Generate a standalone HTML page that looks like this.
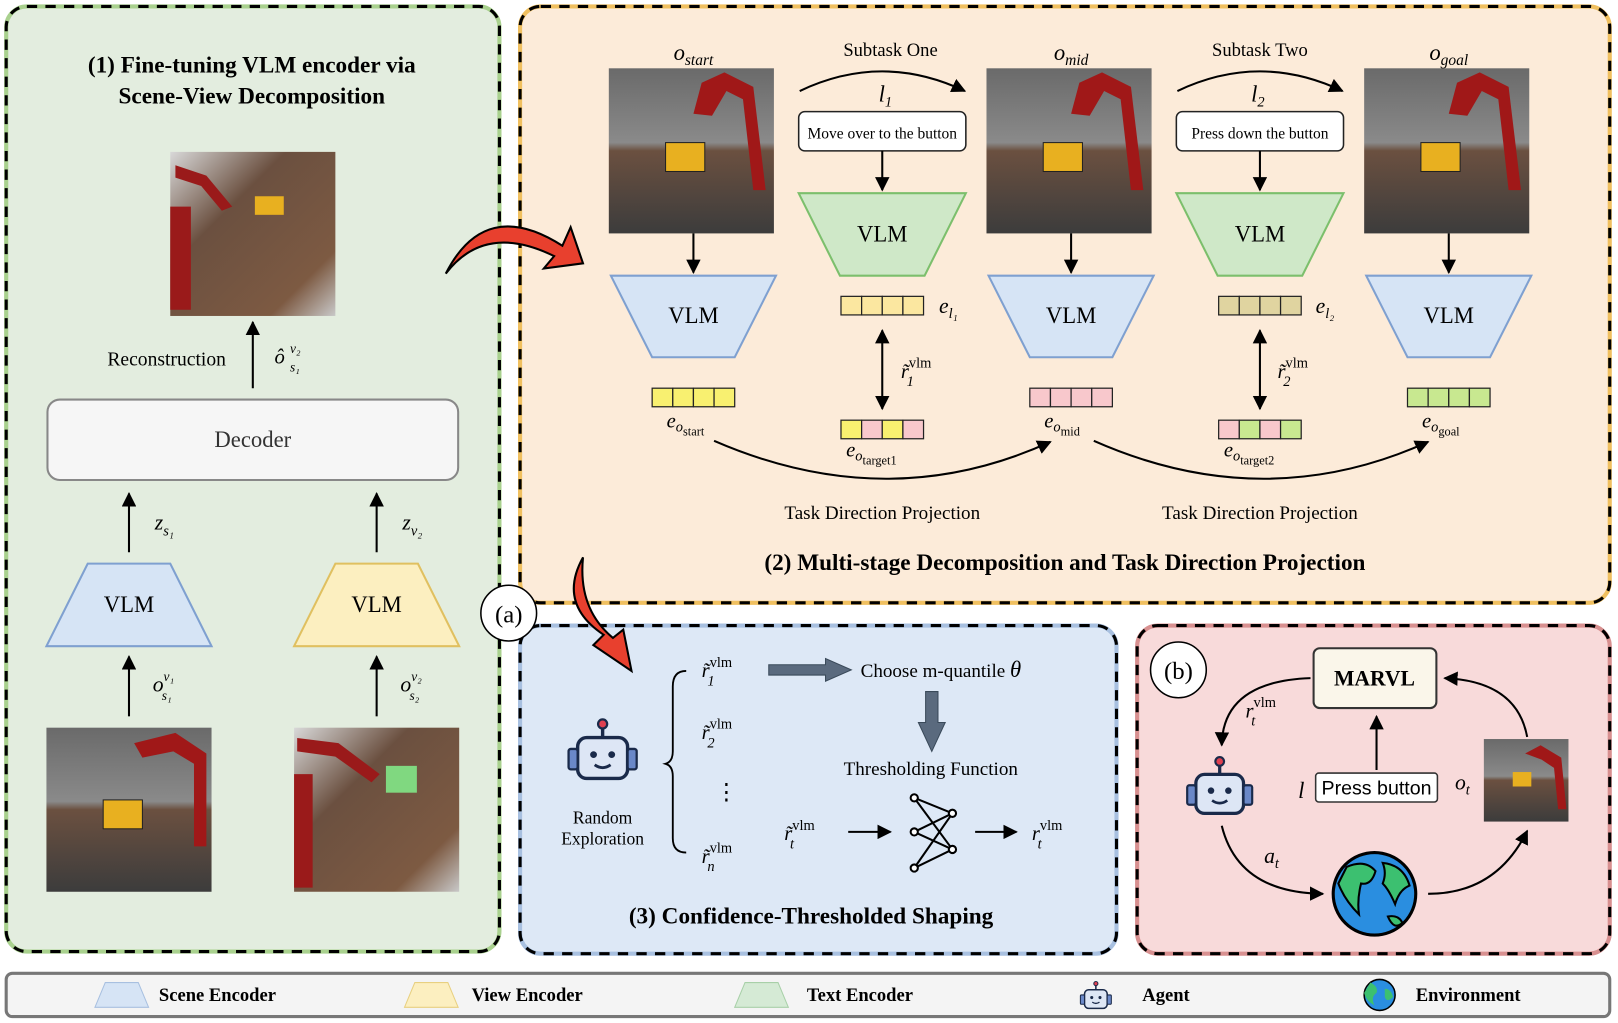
<!DOCTYPE html>
<html><head><meta charset="utf-8"><style>
html,body{margin:0;padding:0;background:#fff;}
svg{display:block;font-family:"Liberation Serif",serif;}
</style></head><body>
<svg width="1618" height="1023" viewBox="0 0 1568 991" xmlns="http://www.w3.org/2000/svg">
<defs>
<marker id="ah" viewBox="0 0 10 10" refX="9" refY="5" markerWidth="7" markerHeight="7" orient="auto"><path d="M0,0L10,5L0,10z" fill="#000"/></marker>
<marker id="ah2" viewBox="0 0 10 10" refX="9" refY="5" markerWidth="7" markerHeight="7" orient="auto-start-reverse"><path d="M0,0L10,5L0,10z" fill="#000"/></marker>
<linearGradient id="img" x1="0" y1="0" x2="0" y2="1"><stop offset="0" stop-color="#6a6a6a"/><stop offset="0.45" stop-color="#8a8a8a"/><stop offset="0.5" stop-color="#6b5040"/><stop offset="1" stop-color="#3c3c3c"/></linearGradient>
<linearGradient id="img2" x1="0" y1="0" x2="1" y2="1"><stop offset="0" stop-color="#d8d8d8"/><stop offset="0.35" stop-color="#6b5040"/><stop offset="0.8" stop-color="#7d5a42"/><stop offset="1" stop-color="#c8c8c8"/></linearGradient>
<g id="robot"><rect x="-22" y="-14" width="44" height="36" rx="8" fill="#dde6f5" stroke="#1a2a4a" stroke-width="3"/><rect x="-30" y="-4" width="8" height="18" rx="2" fill="#6a88c8" stroke="#1a2a4a" stroke-width="2"/><rect x="22" y="-4" width="8" height="18" rx="2" fill="#6a88c8" stroke="#1a2a4a" stroke-width="2"/><line x1="0" y1="-14" x2="0" y2="-24" stroke="#1a2a4a" stroke-width="3"/><circle cx="0" cy="-26" r="4" fill="#e04050" stroke="#1a2a4a" stroke-width="2"/><circle cx="-8" cy="1" r="3" fill="#1a2a4a"/><circle cx="8" cy="1" r="3" fill="#1a2a4a"/><path d="M-7,10Q0,15 7,10" stroke="#1a2a4a" stroke-width="2.5" fill="none"/></g>
</defs>

<rect x="6" y="6" width="478" height="916" rx="20" fill="#e3eddf" stroke="#a9d18e" stroke-width="4"/>
<rect x="6" y="6" width="478" height="916" rx="20" fill="none" stroke="#000" stroke-width="3" stroke-dasharray="10,8"/>
<rect x="504" y="6" width="1056" height="578" rx="20" fill="#fcebd9" stroke="#f0c060" stroke-width="4"/>
<rect x="504" y="6" width="1056" height="578" rx="20" fill="none" stroke="#000" stroke-width="3" stroke-dasharray="10,8"/>
<rect x="504" y="606" width="578" height="318" rx="20" fill="#dde8f6" stroke="#a8c0e0" stroke-width="4"/>
<rect x="504" y="606" width="578" height="318" rx="20" fill="none" stroke="#000" stroke-width="3" stroke-dasharray="10,8"/>
<rect x="1102" y="606" width="458" height="318" rx="20" fill="#f8dada" stroke="#d89090" stroke-width="4"/>
<rect x="1102" y="606" width="458" height="318" rx="20" fill="none" stroke="#000" stroke-width="3" stroke-dasharray="10,8"/>
<rect x="6" y="943" width="1554" height="42" rx="6" fill="#f4f4f4" stroke="#777" stroke-width="3"/>
<path d="M102,952 L134,952 L144,976 L92,976z" fill="#d6e4f5" stroke="#a8c0e0"/>
<text x="154" y="970" font-size="18" font-weight="bold">Scene Encoder</text>
<path d="M402,952 L434,952 L444,976 L392,976z" fill="#fcefc0" stroke="#e8d080"/>
<text x="457" y="970" font-size="18" font-weight="bold">View Encoder</text>
<path d="M722,952 L754,952 L764,976 L712,976z" fill="#d5ead5" stroke="#a8d0a8"/>
<text x="782" y="970" font-size="18" font-weight="bold">Text Encoder</text>
<use href="#robot" transform="translate(1062,966) scale(0.5)"/>
<text x="1107" y="970" font-size="18" font-weight="bold">Agent</text>
<circle cx="1337" cy="964" r="15" fill="#2a8ee0" stroke="#000" stroke-width="1.5"/>
<path d="M1328,952 q8,4 6,10 q-6,4 -2,12 q-8,-4 -10,-12z M1342,958 q6,0 8,8 q-6,6 -8,0z" fill="#3cc070"/>
<text x="1372" y="970" font-size="18" font-weight="bold">Environment</text>

<text x="244" y="70" font-size="22.5" font-weight="bold" text-anchor="middle">(1)  Fine-tuning VLM encoder via</text>
<text x="244" y="100" font-size="22.5" font-weight="bold" text-anchor="middle">Scene-View Decomposition</text>
<rect x="165" y="147" width="160" height="159" fill="url(#img2)"/>
<path d="M170,160 l30,10 l25,30 l-10,4 l-20,-24 l-25,-8z M165,200 l20,0 l0,100 l-20,0z" fill="#9a1a1a"/>
<rect x="247" y="190" width="28" height="18" fill="#e8b020"/>
<line x1="245" y1="376" x2="245" y2="312" stroke="#000" stroke-width="2" marker-end="url(#ah)"/>
<text x="104" y="354" font-size="19">Reconstruction</text>
<text x="266" y="352" font-size="20" font-style="italic">ô</text><text x="281" y="342" font-size="13" font-style="italic">v₂</text><text x="281" y="360" font-size="13" font-style="italic">s₁</text>
<rect x="46" y="387" width="398" height="78" rx="12" fill="#f6f6f6" stroke="#888" stroke-width="2"/>
<text x="245" y="433" font-size="22" text-anchor="middle" fill="#333">Decoder</text>
<line x1="125" y1="535" x2="125" y2="478" stroke="#000" stroke-width="2" marker-end="url(#ah)"/>
<line x1="365" y1="535" x2="365" y2="478" stroke="#000" stroke-width="2" marker-end="url(#ah)"/>
<text x="150" y="513" font-size="21" font-style="italic">z<tspan font-size="14" dy="6">s₁</tspan></text>
<text x="390" y="513" font-size="21" font-style="italic">z<tspan font-size="14" dy="6">v₂</tspan></text>
<path d="M85,546 L165,546 L205,626 L45,626z" fill="#d6e4f5" stroke="#7fa0d0" stroke-width="2"/>
<text x="125" y="593" font-size="22" text-anchor="middle">VLM</text>
<path d="M325,546 L405,546 L445,626 L285,626z" fill="#fcefc0" stroke="#e0c060" stroke-width="2"/>
<text x="365" y="593" font-size="22" text-anchor="middle">VLM</text>
<line x1="125" y1="694" x2="125" y2="636" stroke="#000" stroke-width="2" marker-end="url(#ah)"/>
<line x1="365" y1="694" x2="365" y2="636" stroke="#000" stroke-width="2" marker-end="url(#ah)"/>
<text x="148" y="670" font-size="21" font-style="italic">o<tspan font-size="13" dy="-10">v₁</tspan><tspan font-size="13" dx="-12" dy="18">s₁</tspan></text>
<text x="388" y="670" font-size="21" font-style="italic">o<tspan font-size="13" dy="-10">v₂</tspan><tspan font-size="13" dx="-12" dy="18">s₂</tspan></text>
<rect x="45" y="705" width="160" height="159" fill="url(#img)"/>
<path d="M130,720 l40,-10 l30,20 l0,90 l-12,0 l0,-80 l-20,-12 l-30,6z" fill="#a01818"/>
<rect x="100" y="775" width="38" height="28" fill="#e8b020" stroke="#222"/>
<rect x="285" y="705" width="160" height="159" fill="url(#img2)"/>
<path d="M288,715 l40,5 l40,30 l-8,8 l-35,-25 l-37,-5z M285,750 l18,0 l0,110 l-18,0z" fill="#9a1a1a"/>
<rect x="374" y="742" width="30" height="26" fill="#80d880"/>

<text x="672" y="58" font-size="22" font-style="italic" text-anchor="middle">o<tspan font-size="15" dy="5">start</tspan></text>
<text x="1038" y="58" font-size="22" font-style="italic" text-anchor="middle">o<tspan font-size="15" dy="5">mid</tspan></text>
<text x="1404" y="58" font-size="22" font-style="italic" text-anchor="middle">o<tspan font-size="15" dy="5">goal</tspan></text>
<g id="sim"><rect x="590" y="66" width="160" height="160" fill="url(#img)"/><path d="M672,110 l8,-30 l22,-10 l28,14 l12,100 l-12,0 l-10,-88 l-16,-8 l-14,24z" fill="#a01818"/><rect x="645" y="138" width="38" height="28" fill="#e8b020" stroke="#222"/></g>
<use href="#sim" transform="translate(366,0)"/>
<use href="#sim" transform="translate(732,0)"/>
<text x="863" y="54" font-size="18" text-anchor="middle">Subtask One</text>
<text x="1221" y="54" font-size="18" text-anchor="middle">Subtask Two</text>
<path d="M775,88 Q855,50 935,88" stroke="#000" stroke-width="2" fill="none" marker-end="url(#ah)"/>
<path d="M1141,88 Q1221,50 1301,88" stroke="#000" stroke-width="2" fill="none" marker-end="url(#ah)"/>
<text x="858" y="98" font-size="22" font-style="italic" text-anchor="middle">l<tspan font-size="14" dy="5">1</tspan></text>
<text x="1219" y="98" font-size="22" font-style="italic" text-anchor="middle">l<tspan font-size="14" dy="5">2</tspan></text>
<rect x="774" y="108" width="162" height="38" rx="6" fill="#fff" stroke="#222" stroke-width="1.5"/>
<text x="855" y="134" font-size="15" text-anchor="middle">Move over to the button</text>
<rect x="1140" y="108" width="162" height="38" rx="6" fill="#fff" stroke="#222" stroke-width="1.5"/>
<text x="1221" y="134" font-size="15" text-anchor="middle">Press down the button</text>
<line x1="855" y1="146" x2="855" y2="184" stroke="#000" stroke-width="2" marker-end="url(#ah)"/>
<line x1="1221" y1="146" x2="1221" y2="184" stroke="#000" stroke-width="2" marker-end="url(#ah)"/>
<path d="M774,187 L936,187 L896,267 L814,267z" fill="#cfe8c8" stroke="#7cbf6c" stroke-width="2"/>
<text x="855" y="234" font-size="22" text-anchor="middle">VLM</text>
<path d="M1140,187 L1302,187 L1262,267 L1180,267z" fill="#cfe8c8" stroke="#7cbf6c" stroke-width="2"/>
<text x="1221" y="234" font-size="22" text-anchor="middle">VLM</text>
<line x1="672" y1="226" x2="672" y2="264" stroke="#000" stroke-width="2" marker-end="url(#ah)"/>
<line x1="1038" y1="226" x2="1038" y2="264" stroke="#000" stroke-width="2" marker-end="url(#ah)"/>
<line x1="1404" y1="226" x2="1404" y2="264" stroke="#000" stroke-width="2" marker-end="url(#ah)"/>
<g id="svlm"><path d="M592,267 L752,267 L712,346 L632,346z" fill="#d6e4f5" stroke="#7fa0d0" stroke-width="2"/><text x="672" y="313" font-size="22" text-anchor="middle">VLM</text></g>
<use href="#svlm" transform="translate(366,0)"/>
<use href="#svlm" transform="translate(732,0)"/>
<g stroke="#222" stroke-width="1.2">
<rect x="815" y="287" width="20" height="18" fill="#fbe7a0"/><rect x="835" y="287" width="20" height="18" fill="#fbe7a0"/><rect x="855" y="287" width="20" height="18" fill="#fbe7a0"/><rect x="875" y="287" width="20" height="18" fill="#fbe7a0"/>
<rect x="1181" y="287" width="20" height="18" fill="#e0d4a0"/><rect x="1201" y="287" width="20" height="18" fill="#e0d4a0"/><rect x="1221" y="287" width="20" height="18" fill="#e0d4a0"/><rect x="1241" y="287" width="20" height="18" fill="#e0d4a0"/>
<rect x="632" y="376" width="20" height="18" fill="#f8f070"/><rect x="652" y="376" width="20" height="18" fill="#f8f070"/><rect x="672" y="376" width="20" height="18" fill="#f8f070"/><rect x="692" y="376" width="20" height="18" fill="#f8f070"/>
<rect x="998" y="376" width="20" height="18" fill="#f8c8cc"/><rect x="1018" y="376" width="20" height="18" fill="#f8c8cc"/><rect x="1038" y="376" width="20" height="18" fill="#f8c8cc"/><rect x="1058" y="376" width="20" height="18" fill="#f8c8cc"/>
<rect x="1364" y="376" width="20" height="18" fill="#c8e890"/><rect x="1384" y="376" width="20" height="18" fill="#c8e890"/><rect x="1404" y="376" width="20" height="18" fill="#c8e890"/><rect x="1424" y="376" width="20" height="18" fill="#c8e890"/>
<rect x="815" y="407" width="20" height="18" fill="#f8f070"/><rect x="835" y="407" width="20" height="18" fill="#f8c8cc"/><rect x="855" y="407" width="20" height="18" fill="#f8f070"/><rect x="875" y="407" width="20" height="18" fill="#f8c8cc"/>
<rect x="1181" y="407" width="20" height="18" fill="#f8c8cc"/><rect x="1201" y="407" width="20" height="18" fill="#c8e890"/><rect x="1221" y="407" width="20" height="18" fill="#f8c8cc"/><rect x="1241" y="407" width="20" height="18" fill="#c8e890"/>
</g>
<text x="910" y="303" font-size="21" font-style="italic">e<tspan font-size="14" dy="5">l₁</tspan></text>
<text x="1275" y="303" font-size="21" font-style="italic">e<tspan font-size="14" dy="5">l₂</tspan></text>
<line x1="855" y1="320" x2="855" y2="396" stroke="#000" stroke-width="2" marker-start="url(#ah2)" marker-end="url(#ah)"/>
<line x1="1221" y1="320" x2="1221" y2="396" stroke="#000" stroke-width="2" marker-start="url(#ah2)" marker-end="url(#ah)"/>
<text x="873" y="366" font-size="20" font-style="italic">r̃<tspan font-size="14" dy="-10" font-style="normal">vlm</tspan><tspan font-size="14" dx="-24" dy="18">1</tspan></text>
<text x="1238" y="366" font-size="20" font-style="italic">r̃<tspan font-size="14" dy="-10" font-style="normal">vlm</tspan><tspan font-size="14" dx="-24" dy="18">2</tspan></text>
<text x="646" y="414" font-size="20" font-style="italic">e<tspan font-size="14" dy="4">o</tspan><tspan font-size="12" dy="4" font-style="normal">start</tspan></text>
<text x="1012" y="414" font-size="20" font-style="italic">e<tspan font-size="14" dy="4">o</tspan><tspan font-size="12" dy="4" font-style="normal">mid</tspan></text>
<text x="1378" y="414" font-size="20" font-style="italic">e<tspan font-size="14" dy="4">o</tspan><tspan font-size="12" dy="4" font-style="normal">goal</tspan></text>
<text x="820" y="442" font-size="20" font-style="italic">e<tspan font-size="14" dy="4">o</tspan><tspan font-size="12" dy="4" font-style="normal">target1</tspan></text>
<text x="1186" y="442" font-size="20" font-style="italic">e<tspan font-size="14" dy="4">o</tspan><tspan font-size="12" dy="4" font-style="normal">target2</tspan></text>
<path d="M692,427 Q860,500 1018,428" stroke="#000" stroke-width="2" fill="none" marker-end="url(#ah)"/>
<path d="M1060,427 Q1225,500 1384,428" stroke="#000" stroke-width="2" fill="none" marker-end="url(#ah)"/>
<text x="855" y="503" font-size="18.5" text-anchor="middle">Task Direction Projection</text>
<text x="1221" y="503" font-size="18.5" text-anchor="middle">Task Direction Projection</text>
<text x="1032" y="552" font-size="22.5" font-weight="bold" text-anchor="middle">(2) Multi-stage Decomposition and Task Direction Projection</text>

<path d="M432,265 Q470,190 545,238 l8,-18 l12,35 l-38,5 l10,-12 Q470,215 432,265z" fill="#e8402e" stroke="#000" stroke-width="2"/>
<path d="M565,540 Q540,585 585,615 l-10,10 l37,25 l-8,-40 l-10,8 Q560,590 565,540z" fill="#e8402e" stroke="#000" stroke-width="2"/>
<circle cx="493" cy="594" r="27" fill="#fff" stroke="#000" stroke-width="1.5"/>
<text x="493" y="603" font-size="24" text-anchor="middle">(a)</text>

<use href="#robot" transform="translate(584,730) scale(1.1)"/>
<text x="584" y="798" font-size="17" text-anchor="middle">Random</text>
<text x="584" y="818" font-size="17" text-anchor="middle">Exploration</text>
<path d="M665,650 Q652,650 652,665 L652,728 Q652,738 645,740 Q652,742 652,752 L652,812 Q652,826 665,826" stroke="#000" stroke-width="1.8" fill="none"/>
<g font-size="20" font-style="italic">
<text x="680" y="656">r̃<tspan font-size="14" dy="-10" font-style="normal">vlm</tspan><tspan font-size="14" dx="-24" dy="18">1</tspan></text>
<text x="680" y="716">r̃<tspan font-size="14" dy="-10" font-style="normal">vlm</tspan><tspan font-size="14" dx="-24" dy="18">2</tspan></text>
<text x="680" y="836">r̃<tspan font-size="14" dy="-10" font-style="normal">vlm</tspan><tspan font-size="14" dx="-24" dy="18">n</tspan></text>
<text x="760" y="814">r̃<tspan font-size="14" dy="-10" font-style="normal">vlm</tspan><tspan font-size="14" dx="-24" dy="18">t</tspan></text>
<text x="1000" y="814">r<tspan font-size="14" dy="-10" font-style="normal">vlm</tspan><tspan font-size="14" dx="-24" dy="18">t</tspan></text>
</g>
<text x="704" y="774" font-size="22" text-anchor="middle">⋮</text>
<path d="M745,644 L800,644 L800,638 L825,649 L800,660 L800,654 L745,654z" fill="#5a6a7e" stroke="#3a4a5a"/>
<text x="834" y="656" font-size="18.5">Choose m-quantile <tspan font-style="italic" font-size="22">θ</tspan></text>
<path d="M897,670 L909,670 L909,700 L916,700 L903,728 L890,700 L897,700z" fill="#5a6a7e" stroke="#3a4a5a"/>
<text x="902" y="751" font-size="18.5" text-anchor="middle">Thresholding Function</text>
<line x1="822" y1="806" x2="863" y2="806" stroke="#000" stroke-width="2" marker-end="url(#ah)"/>
<line x1="945" y1="806" x2="985" y2="806" stroke="#000" stroke-width="2" marker-end="url(#ah)"/>
<g stroke="#000" stroke-width="2" fill="#fff">
<line x1="886" y1="773" x2="923" y2="788"/><line x1="886" y1="773" x2="923" y2="823"/><line x1="886" y1="806" x2="923" y2="788"/><line x1="886" y1="806" x2="923" y2="823"/><line x1="886" y1="841" x2="923" y2="788"/><line x1="886" y1="841" x2="923" y2="823"/>
<circle cx="886" cy="773" r="3.5"/><circle cx="886" cy="806" r="3.5"/><circle cx="886" cy="841" r="3.5"/><circle cx="923" cy="788" r="3.5"/><circle cx="923" cy="823" r="3.5"/>
</g>
<text x="786" y="895" font-size="22.5" font-weight="bold" text-anchor="middle">(3) Confidence-Thresholded Shaping</text>

<circle cx="1142" cy="649" r="27" fill="#fff" stroke="#000" stroke-width="1.5"/>
<text x="1142" y="658" font-size="24" text-anchor="middle">(b)</text>
<rect x="1273" y="628" width="119" height="58" rx="6" fill="#faf6ea" stroke="#333" stroke-width="2"/>
<text x="1332" y="664" font-size="21" font-weight="bold" text-anchor="middle">MARVL</text>
<line x1="1334" y1="746" x2="1334" y2="694" stroke="#000" stroke-width="2" marker-end="url(#ah)"/>
<rect x="1275" y="749" width="118" height="28" rx="3" fill="#fff" stroke="#333" stroke-width="1.5"/>
<text x="1334" y="770" font-size="19" font-family="Liberation Sans, sans-serif" text-anchor="middle">Press button</text>
<text x="1258" y="773" font-size="22" font-style="italic">l</text>
<text x="1410" y="765" font-size="21" font-style="italic">o<tspan font-size="14" dy="5">t</tspan></text>
<rect x="1438" y="716" width="82" height="80" fill="url(#img)"/>
<path d="M1478,730 l15,-8 l20,12 l5,50 l-8,0 l-4,-40 l-12,-8z" fill="#a01818"/>
<rect x="1466" y="748" width="18" height="14" fill="#e8b020"/>
<path d="M1480,714 Q1470,660 1400,657" stroke="#000" stroke-width="2" fill="none" marker-end="url(#ah)"/>
<path d="M1270,657 Q1185,660 1184,722" stroke="#000" stroke-width="2" fill="none" marker-end="url(#ah)"/>
<text x="1207" y="695" font-size="20" font-style="italic">r<tspan font-size="14" dy="-10" font-style="normal">vlm</tspan><tspan font-size="14" dx="-24" dy="18">t</tspan></text>
<use href="#robot" transform="translate(1182,765) scale(1.05)"/>
<text x="1225" y="836" font-size="21" font-style="italic">a<tspan font-size="14" dy="5">t</tspan></text>
<path d="M1184,800 Q1200,865 1282,866" stroke="#000" stroke-width="2" fill="none" marker-end="url(#ah)"/>
<path d="M1384,866 Q1450,866 1480,805" stroke="#000" stroke-width="2" fill="none" marker-end="url(#ah)"/>
<circle cx="1332" cy="866" r="40" fill="#2a8ee0" stroke="#000" stroke-width="3"/>
<path d="M1305,840 q18,-8 28,4 q-4,14 -14,12 q-4,16 -2,30 q-14,-14 -20,-30z M1340,836 q20,2 26,22 q-10,4 -14,18 q-6,-14 -12,-20 q4,-10 0,-20z M1345,888 q10,-2 14,6 q-8,8 -14,-6z" fill="#3cc070" stroke="#000" stroke-width="2"/>
</svg>
</body></html>
